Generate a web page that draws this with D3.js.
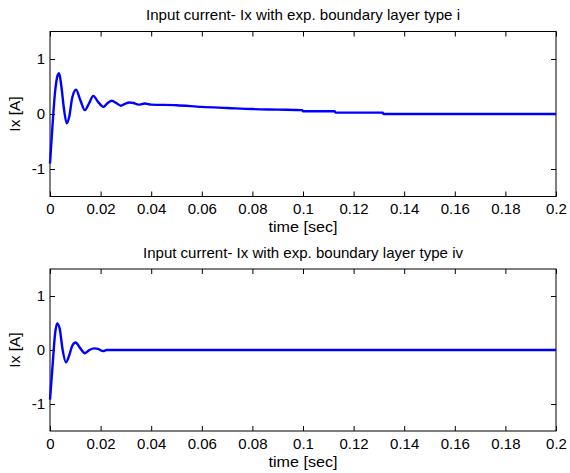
<!DOCTYPE html>
<html>
<head>
<meta charset="utf-8">
<script src="https://cdn.jsdelivr.net/npm/d3@7"></script>
<style>
  body { margin: 0; background: #fff; }
  text { font-family: "Liberation Sans", Arial, sans-serif; }
</style>
</head>
<body>
<div id="chart"></div>
<script>
// top panel: boundary layer type i
const timeI = [0, 0.001, 0.002, 0.003, 0.0036, 0.0045, 0.0055, 0.0066, 0.0076, 0.0088, 0.0103, 0.012, 0.0138,
  0.0155, 0.0171, 0.019, 0.0211, 0.0228, 0.0244, 0.0262, 0.028, 0.0298, 0.0313, 0.033, 0.035, 0.0375, 0.04,
  0.05, 0.06, 0.07, 0.08, 0.09, 0.0997, 0.1, 0.1125, 0.1128, 0.1315, 0.1318, 0.2];
const currentI = [-0.9, -0.2, 0.4, 0.7, 0.74, 0.5, 0.1, -0.17, -0.05, 0.3, 0.44, 0.25, 0.07,
  0.2, 0.33, 0.22, 0.13, 0.2, 0.24, 0.2, 0.15, 0.19, 0.21, 0.2, 0.17, 0.19, 0.17,
  0.16, 0.13, 0.11, 0.09, 0.08, 0.07, 0.05, 0.05, 0.025, 0.025, 0.0, 0.0];

// bottom panel: boundary layer type iv
const timeIV = [0, 0.001, 0.002, 0.0028, 0.0038, 0.005, 0.0063, 0.0076, 0.0088, 0.0101, 0.012, 0.0138,
  0.0156, 0.0174, 0.019, 0.021, 0.0224, 0.2];
const currentIV = [-0.92, -0.3, 0.3, 0.49, 0.4, 0.0, -0.23, -0.1, 0.08, 0.14, 0.03, -0.06,
  0.0, 0.03, 0.02, -0.02, 0.0, 0.0];

const xTicks = [0, 0.02, 0.04, 0.06, 0.08, 0.1, 0.12, 0.14, 0.16, 0.18, 0.2];
const yTicks = [-1, 0, 1];
const titles = ["Input current- Ix with exp. boundary layer type i",
                "Input current- Ix with exp. boundary layer type iv"];

const W = 570, H = 473;
const svg = d3.select("#chart").append("svg")
  .attr("width", W)
  .attr("height", H);

svg.append("rect").attr("width", W).attr("height", H).attr("fill", "#fff");

const left = 50, right = 556;

function panel(top, bottom, time, vals, title, titleLen) {
  const x = d3.scaleLinear().domain([0, 0.2]).range([left, right]);
  const y = d3.scaleLinear().domain([-1.5, 1.5]).range([bottom, top]);
  const g = svg.append("g");

  const fmt = d => String(d);

  g.append("g")
    .attr("transform", `translate(0,${bottom})`)
    .call(d3.axisBottom(x).tickValues(xTicks).tickFormat(fmt).tickSizeInner(-5).tickSizeOuter(0).tickPadding(7));
  g.append("g")
    .attr("transform", `translate(0,${top})`)
    .call(d3.axisTop(x).tickValues(xTicks).tickFormat("").tickSizeInner(-5).tickSizeOuter(0));
  g.append("g")
    .attr("transform", `translate(${left},0)`)
    .call(d3.axisLeft(y).tickValues(yTicks).tickFormat(fmt).tickSizeInner(-5).tickSizeOuter(0).tickPadding(5));
  g.append("g")
    .attr("transform", `translate(${right},0)`)
    .call(d3.axisRight(y).tickValues(yTicks).tickFormat("").tickSizeInner(-5).tickSizeOuter(0));

  g.selectAll(".domain").remove();
  g.selectAll(".tick text").attr("font-size", 15).attr("fill", "#000")
    .attr("font-family", "'Liberation Sans', Arial, sans-serif");
  g.selectAll(".tick line").attr("stroke", "#000");

  g.append("rect")
    .attr("x", left).attr("y", top)
    .attr("width", right - left).attr("height", bottom - top)
    .attr("fill", "none").attr("stroke", "#000").attr("stroke-width", 1);

  const pts = time.map((t, i) => [t, vals[i]]);
  const line = d3.line()
    .x(d => x(d[0]))
    .y(d => y(d[1]))
    .curve(d3.curveMonotoneX);

  g.append("path")
    .datum(pts)
    .attr("d", line)
    .attr("fill", "none")
    .attr("stroke", "#0000ff")
    .attr("stroke-width", 2.4)
    .attr("stroke-linejoin", "round");

  g.append("text")
    .attr("x", (left + right) / 2).attr("y", top - 11.5)
    .attr("text-anchor", "middle").attr("font-size", 14.5)
    .attr("textLength", titleLen).attr("lengthAdjust", "spacingAndGlyphs")
    .text(title);

  g.append("text")
    .attr("x", (left + right) / 2).attr("y", bottom + 35.5)
    .attr("text-anchor", "middle").attr("font-size", 15)
    .attr("textLength", 69).attr("lengthAdjust", "spacingAndGlyphs")
    .text("time [sec]");

  g.append("text")
    .attr("transform", `translate(20,${(top + bottom) / 2}) rotate(-90)`)
    .attr("text-anchor", "middle").attr("font-size", 15.5)
    .text("Ix [A]");
}

panel(31.5, 196.5, timeI, currentI, titles[0], 314);
panel(269, 431, timeIV, currentIV, titles[1], 320);
</script>
</body>
</html>
